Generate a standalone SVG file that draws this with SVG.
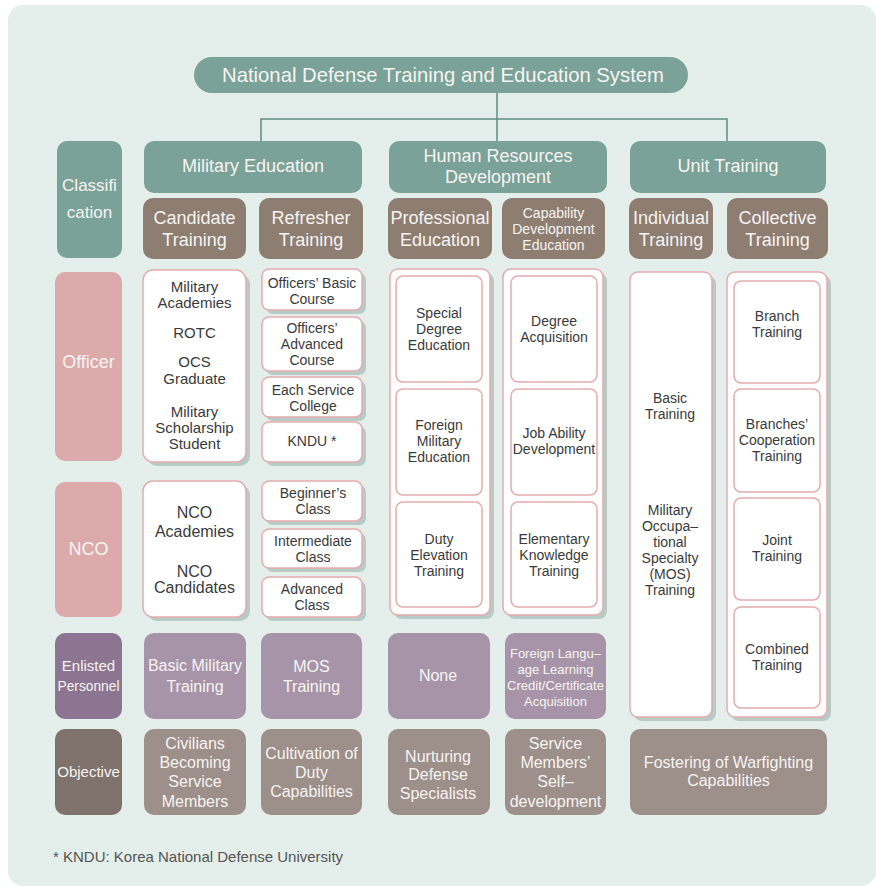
<svg xmlns="http://www.w3.org/2000/svg" width="876" height="886" viewBox="0 0 876 886">
<style>
text{font-family:"Liberation Sans",Arial,sans-serif;text-anchor:middle;dominant-baseline:central}
.teal{fill:#7ba298}
.brown{fill:#8e7e71}
.pink{fill:#dcaaaa}
.enl{fill:#8b7590}
.enlc{fill:#a794a9}
.obj{fill:#7f716b}
.objc{fill:#9d8f8a}
.wb{fill:#fff;stroke:#e4acae;stroke-width:1.5}
.sh{fill:#b8cac5}
.lt{fill:#f7f4f2}
.dk{fill:#3a3a3a}
.f20{font-size:20px}.f18{font-size:18px}.f17{font-size:17px}.f16{font-size:16px}.f15{font-size:15px}.f14{font-size:14px}.f13{font-size:13px}
.conn{stroke:#5e8f82;stroke-width:1.5;fill:none}
</style>
<rect x="8" y="5" width="868" height="881" rx="15" fill="#e4eeea"/>

<g id="connectors">
<path class="conn" d="M497 93V141M261 141V119H727V141"/>
</g>

<g id="title">
<rect class="teal" x="194" y="57" width="494" height="36" rx="18"/>
<text class="lt" font-size="20.3" x="443" y="75">National Defense Training and Education System</text>
</g>

<g id="classification">
<rect class="teal" x="57" y="141" width="65" height="117" rx="10"/>
<text class="lt f17" x="89.5" y="185">Classifi</text>
<text class="lt f17" x="89.5" y="212">cation</text>
</g>
<g id="military-education">
<rect class="teal" x="144" y="141" width="218" height="52" rx="10"/>
<text class="lt f18" x="253" y="166">Military Education</text>
</g>
<g id="hrd">
<rect class="teal" x="389" y="141" width="218" height="52" rx="10"/>
<text class="lt f18" x="498" y="156">Human Resources</text>
<text class="lt f18" x="498" y="177">Development</text>
</g>
<g id="unit-training">
<rect class="teal" x="630" y="141" width="196" height="52" rx="10"/>
<text class="lt f18" x="728" y="166">Unit Training</text>
</g>

<g id="candidate-training">
<rect class="brown" x="143" y="198" width="103" height="61" rx="10"/>
<text class="lt f18" x="194.5" y="218">Candidate</text>
<text class="lt f18" x="194.5" y="240">Training</text>
</g>
<g id="refresher-training">
<rect class="brown" x="259" y="198" width="104" height="61" rx="10"/>
<text class="lt f18" x="311" y="218">Refresher</text>
<text class="lt f18" x="311" y="240">Training</text>
</g>
<g id="professional-education">
<rect class="brown" x="388" y="198" width="104" height="61" rx="10"/>
<text class="lt f18" x="440" y="218">Professional</text>
<text class="lt f18" x="440" y="240">Education</text>
</g>
<g id="capability-development">
<rect class="brown" x="502" y="198" width="103" height="61" rx="10"/>
<text class="lt f14" x="553.5" y="213">Capability</text>
<text class="lt f14" x="553.5" y="229">Development</text>
<text class="lt f14" x="553.5" y="245">Education</text>
</g>
<g id="individual-training">
<rect class="brown" x="629" y="198" width="84" height="61" rx="10"/>
<text class="lt f18" x="671" y="218">Individual</text>
<text class="lt f18" x="671" y="240">Training</text>
</g>
<g id="collective-training">
<rect class="brown" x="727" y="198" width="101" height="61" rx="10"/>
<text class="lt f18" x="777.5" y="218">Collective</text>
<text class="lt f18" x="777.5" y="240">Training</text>
</g>

<g id="officer">
<rect class="pink" x="55" y="272" width="67" height="189" rx="10"/>
<text class="lt f18" x="88.5" y="362">Officer</text>
</g>
<g id="nco">
<rect class="pink" x="55" y="482" width="67" height="135" rx="10"/>
<text class="lt f18" x="88.5" y="549">NCO</text>
</g>

<g id="officer-candidate">
<rect class="sh" x="147" y="274" width="103" height="192" rx="10"/>
<rect class="wb" x="143" y="270" width="103" height="192" rx="10"/>
<text class="dk f15" x="194.5" y="286">Military</text>
<text class="dk f15" x="194.5" y="302">Academies</text>
<text class="dk f15" x="194.5" y="332">ROTC</text>
<text class="dk f15" x="194.5" y="361">OCS</text>
<text class="dk f15" x="194.5" y="378">Graduate</text>
<text class="dk f15" x="194.5" y="411">Military</text>
<text class="dk f15" x="194.5" y="427">Scholarship</text>
<text class="dk f15" x="194.5" y="443">Student</text>
</g>
<g id="officers-basic-course">
<rect class="sh" x="266" y="273" width="100" height="41" rx="7"/>
<rect class="wb" x="262" y="269" width="100" height="41" rx="7"/>
<text class="dk f14" x="312" y="283">Officers’ Basic</text>
<text class="dk f14" x="312" y="299">Course</text>
</g>
<g id="officers-advanced-course">
<rect class="sh" x="266" y="321" width="100" height="54" rx="7"/>
<rect class="wb" x="262" y="317" width="100" height="54" rx="7"/>
<text class="dk f14" x="312" y="328">Officers’</text>
<text class="dk f14" x="312" y="344">Advanced</text>
<text class="dk f14" x="312" y="360">Course</text>
</g>
<g id="each-service-college">
<rect class="sh" x="266" y="381" width="100" height="40" rx="7"/>
<rect class="wb" x="262" y="377" width="100" height="40" rx="7"/>
<text class="dk f14" x="313" y="390">Each Service</text>
<text class="dk f14" x="313" y="406">College</text>
</g>
<g id="kndu">
<rect class="sh" x="266" y="426" width="100" height="40" rx="7"/>
<rect class="wb" x="262" y="422" width="100" height="40" rx="7"/>
<text class="dk f14" x="312" y="441">KNDU *</text>
</g>

<g id="nco-candidate">
<rect class="sh" x="147" y="485" width="103" height="136" rx="10"/>
<rect class="wb" x="143" y="481" width="103" height="136" rx="10"/>
<text class="dk f16" x="194.5" y="512">NCO</text>
<text class="dk f16" x="194.5" y="531">Academies</text>
<text class="dk f16" x="194.5" y="571">NCO</text>
<text class="dk f16" x="194.5" y="587">Candidates</text>
</g>
<g id="beginners-class">
<rect class="sh" x="266" y="485" width="100" height="40" rx="7"/>
<rect class="wb" x="262" y="481" width="100" height="40" rx="7"/>
<text class="dk f14" x="313" y="493">Beginner’s</text>
<text class="dk f14" x="313" y="509">Class</text>
</g>
<g id="intermediate-class">
<rect class="sh" x="266" y="533" width="100" height="39" rx="7"/>
<rect class="wb" x="262" y="529" width="100" height="39" rx="7"/>
<text class="dk f14" x="313" y="541">Intermediate</text>
<text class="dk f14" x="313" y="557">Class</text>
</g>
<g id="advanced-class">
<rect class="sh" x="266" y="581" width="100" height="40" rx="7"/>
<rect class="wb" x="262" y="577" width="100" height="40" rx="7"/>
<text class="dk f14" x="312" y="589">Advanced</text>
<text class="dk f14" x="312" y="605">Class</text>
</g>

<g id="professional-column">
<rect class="sh" x="394" y="273" width="100" height="346" rx="8"/>
<rect class="wb" x="390" y="269" width="100" height="346" rx="8"/>
<rect class="wb" x="396" y="276" width="86" height="106" rx="7"/>
<text class="dk f14" x="439" y="313">Special</text>
<text class="dk f14" x="439" y="329">Degree</text>
<text class="dk f14" x="439" y="345">Education</text>
<rect class="wb" x="396" y="389" width="86" height="106" rx="7"/>
<text class="dk f14" x="439" y="425">Foreign</text>
<text class="dk f14" x="439" y="441">Military</text>
<text class="dk f14" x="439" y="457">Education</text>
<rect class="wb" x="396" y="502" width="86" height="105" rx="7"/>
<text class="dk f14" x="439" y="539">Duty</text>
<text class="dk f14" x="439" y="555">Elevation</text>
<text class="dk f14" x="439" y="571">Training</text>
</g>
<g id="capability-column">
<rect class="sh" x="507" y="273" width="100" height="346" rx="8"/>
<rect class="wb" x="503" y="269" width="100" height="346" rx="8"/>
<rect class="wb" x="511" y="276" width="86" height="106" rx="7"/>
<text class="dk f14" x="554" y="321">Degree</text>
<text class="dk f14" x="554" y="337">Acquisition</text>
<rect class="wb" x="511" y="389" width="86" height="106" rx="7"/>
<text class="dk f14" x="554" y="433">Job Ability</text>
<text class="dk f14" x="554" y="449">Development</text>
<rect class="wb" x="511" y="502" width="86" height="105" rx="7"/>
<text class="dk f14" x="554" y="539">Elementary</text>
<text class="dk f14" x="554" y="555">Knowledge</text>
<text class="dk f14" x="554" y="571">Training</text>
</g>

<g id="individual-column">
<rect class="sh" x="634" y="276" width="82" height="445" rx="8"/>
<rect class="wb" x="630" y="272" width="82" height="445" rx="8"/>
<text class="dk f14" x="670" y="398">Basic</text>
<text class="dk f14" x="670" y="414">Training</text>
<text class="dk f14" x="670" y="510">Military</text>
<text class="dk f14" x="670" y="526">Occupa–</text>
<text class="dk f14" x="670" y="542">tional</text>
<text class="dk f14" x="670" y="558">Specialty</text>
<text class="dk f14" x="670" y="574">(MOS)</text>
<text class="dk f14" x="670" y="590">Training</text>
</g>
<g id="collective-column">
<rect class="sh" x="731" y="276" width="100" height="445" rx="8"/>
<rect class="wb" x="727" y="272" width="100" height="445" rx="8"/>
<rect class="wb" x="734" y="281" width="86" height="102" rx="7"/>
<text class="dk f14" x="777" y="316">Branch</text>
<text class="dk f14" x="777" y="332">Training</text>
<rect class="wb" x="734" y="389" width="86" height="103" rx="7"/>
<text class="dk f14" x="777" y="424">Branches’</text>
<text class="dk f14" x="777" y="440">Cooperation</text>
<text class="dk f14" x="777" y="456">Training</text>
<rect class="wb" x="734" y="498" width="86" height="102" rx="7"/>
<text class="dk f14" x="777" y="540">Joint</text>
<text class="dk f14" x="777" y="556">Training</text>
<rect class="wb" x="734" y="607" width="86" height="101" rx="7"/>
<text class="dk f14" x="777" y="649">Combined</text>
<text class="dk f14" x="777" y="665">Training</text>
</g>

<g id="enlisted">
<rect class="enl" x="55" y="633" width="67" height="86" rx="10"/>
<text class="lt f15" x="88.5" y="665">Enlisted</text>
<text class="lt f15" x="88.5" y="685" textLength="62" lengthAdjust="spacingAndGlyphs">Personnel</text>
</g>
<g id="basic-military-training">
<rect class="enlc" x="144" y="633" width="102" height="86" rx="10"/>
<text class="lt f16" x="195" y="665">Basic Military</text>
<text class="lt f16" x="195" y="686">Training</text>
</g>
<g id="mos-training">
<rect class="enlc" x="261" y="633" width="101" height="86" rx="10"/>
<text class="lt f16" x="311.5" y="666">MOS</text>
<text class="lt f16" x="311.5" y="686">Training</text>
</g>
<g id="none">
<rect class="enlc" x="388" y="633" width="102" height="86" rx="10"/>
<text class="lt f16" x="438" y="675">None</text>
</g>
<g id="foreign-language">
<rect class="enlc" x="505" y="633" width="101" height="86" rx="10"/>
<text class="lt f13" x="555.5" y="653">Foreign Langu–</text>
<text class="lt f13" x="555.5" y="669">age Learning</text>
<text class="lt f13" x="555.5" y="685">Credit/Certificate</text>
<text class="lt f13" x="555.5" y="701">Acquisition</text>
</g>

<g id="objective">
<rect class="obj" x="55" y="729" width="67" height="86" rx="10"/>
<text class="lt f15" x="88.5" y="771">Objective</text>
</g>
<g id="civilians">
<rect class="objc" x="144" y="729" width="102" height="86" rx="10"/>
<text class="lt f16" x="195" y="743">Civilians</text>
<text class="lt f16" x="195" y="762">Becoming</text>
<text class="lt f16" x="195" y="781">Service</text>
<text class="lt f16" x="195" y="801">Members</text>
</g>
<g id="cultivation">
<rect class="objc" x="261" y="729" width="101" height="86" rx="10"/>
<text class="lt f16" x="311.5" y="753">Cultivation of</text>
<text class="lt f16" x="311.5" y="772">Duty</text>
<text class="lt f16" x="311.5" y="791">Capabilities</text>
</g>
<g id="nurturing">
<rect class="objc" x="388" y="729" width="102" height="86" rx="10"/>
<text class="lt f16" x="438" y="756">Nurturing</text>
<text class="lt f16" x="438" y="774">Defense</text>
<text class="lt f16" x="438" y="793">Specialists</text>
</g>
<g id="self-development">
<rect class="objc" x="505" y="729" width="101" height="86" rx="10"/>
<text class="lt f16" x="555.5" y="743">Service</text>
<text class="lt f16" x="555.5" y="762">Members’</text>
<text class="lt f16" x="555.5" y="781">Self–</text>
<text class="lt f16" x="555.5" y="801">development</text>
</g>
<g id="fostering">
<rect class="objc" x="630" y="729" width="197" height="86" rx="10"/>
<text class="lt f16" x="728.5" y="762">Fostering of Warfighting</text>
<text class="lt f16" x="728.5" y="780">Capabilities</text>
</g>

<g id="footnote">
<text x="53" y="856" font-size="15" fill="#555" style="text-anchor:start">* KNDU: Korea National Defense University</text>
</g>
</svg>
